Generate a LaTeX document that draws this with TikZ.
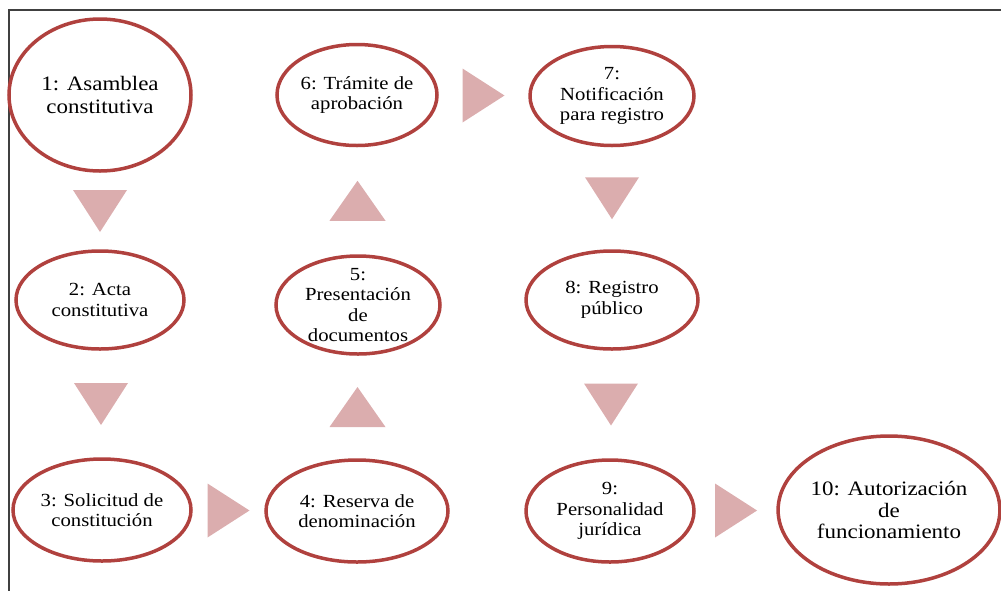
\documentclass[tikz,border=0pt]{standalone}
\usepackage{fontspec}
\setmainfont{Liberation Serif}[FakeStretch=1.12]
\usetikzlibrary{shapes.geometric}

\definecolor{ringred}{HTML}{B0413E}
\definecolor{trifill}{HTML}{DBADAE}
\definecolor{framegray}{HTML}{404040}

\begin{document}
\begin{tikzpicture}[
    x=1pt, y=-1pt,
    every node/.style={font=\fontsize{18.5}{20.5}\selectfont, text=black},
    etapa/.style={
        ellipse,
        draw=ringred,
        line width=3.5pt,
        align=center,
        inner sep=0pt
    },
    grande/.style={font=\fontsize{20.5}{22.5}\selectfont},
    tridown/.pic={\fill[trifill] (-27,-21) -- (27,-21) -- (0,21) -- cycle;},
    triup/.pic={\fill[trifill] (-28,20) -- (28,20) -- (0,-20) -- cycle;},
    triright/.pic={\fill[trifill] (-21,-27) -- (-21,27) -- (21,0) -- cycle;}
]
    \useasboundingbox (0,0) rectangle (1001,590);

    % Frame
    \draw[framegray, line width=2pt] (9,591) -- (9,10) -- (1002,10);

    % Column 1
    \node[etapa, grande, minimum width=182pt, minimum height=152pt]
        (asamblea) at (100,95) {1: Asamblea\\constitutiva};
    \node[etapa, minimum width=168pt, minimum height=98pt]
        (acta) at (100,300) {2: Acta\\constitutiva};
    \node[etapa, minimum width=178pt, minimum height=102pt]
        (solicitud) at (102,510) {3: Solicitud de\\constitución};

    % Column 2
    \node[etapa, minimum width=182pt, minimum height=102pt]
        (reserva) at (357,511) {4: Reserva de\\denominación};
    \node[etapa, inner ysep=-9pt, minimum width=164pt, minimum height=98pt]
        (presentacion) at (358,305) {5:\\Presentación\\de\\documentos};
    \node[etapa, minimum width=160pt, minimum height=101pt]
        (tramite) at (357,95) {6: Trámite de\\aprobación};

    % Column 3
    \node[etapa, minimum width=164pt, minimum height=99pt]
        (notificacion) at (612,96) {7:\\Notificación\\para registro};
    \node[etapa, minimum width=172pt, minimum height=98pt]
        (registro) at (612,300) {8: Registro\\público};
    \node[etapa, minimum width=168pt, minimum height=102pt]
        (personalidad) at (610,511) {9:\\Personalidad\\jurídica};

    % Last step
    \node[etapa, grande, font=\fontsize{20.5}{21.5}\selectfont,
        minimum width=219pt, minimum height=148pt]
        (autorizacion) at (889,510) {10: Autorización\\de\\funcionamiento};

    % Arrows
    \path (asamblea.south) -- (acta.north) pic[midway] {tridown};
    \path (acta.south) -- (solicitud.north) pic[midway] {tridown};
    \path (solicitud.east) -- (reserva.west) pic[midway] {triright};
    \path (reserva.north) -- (presentacion.south) pic[midway] {triup};
    \path (presentacion.north) -- (tramite.south) pic[midway] {triup};
    \path (tramite.east) -- (notificacion.west) pic[midway] {triright};
    \path (notificacion.south) -- (registro.north) pic[midway] {tridown};
    \path (registro.south) -- (personalidad.north) pic[midway] {tridown};
    \path (personalidad.east) -- (autorizacion.west) pic[midway] {triright};

\end{tikzpicture}
\end{document}
